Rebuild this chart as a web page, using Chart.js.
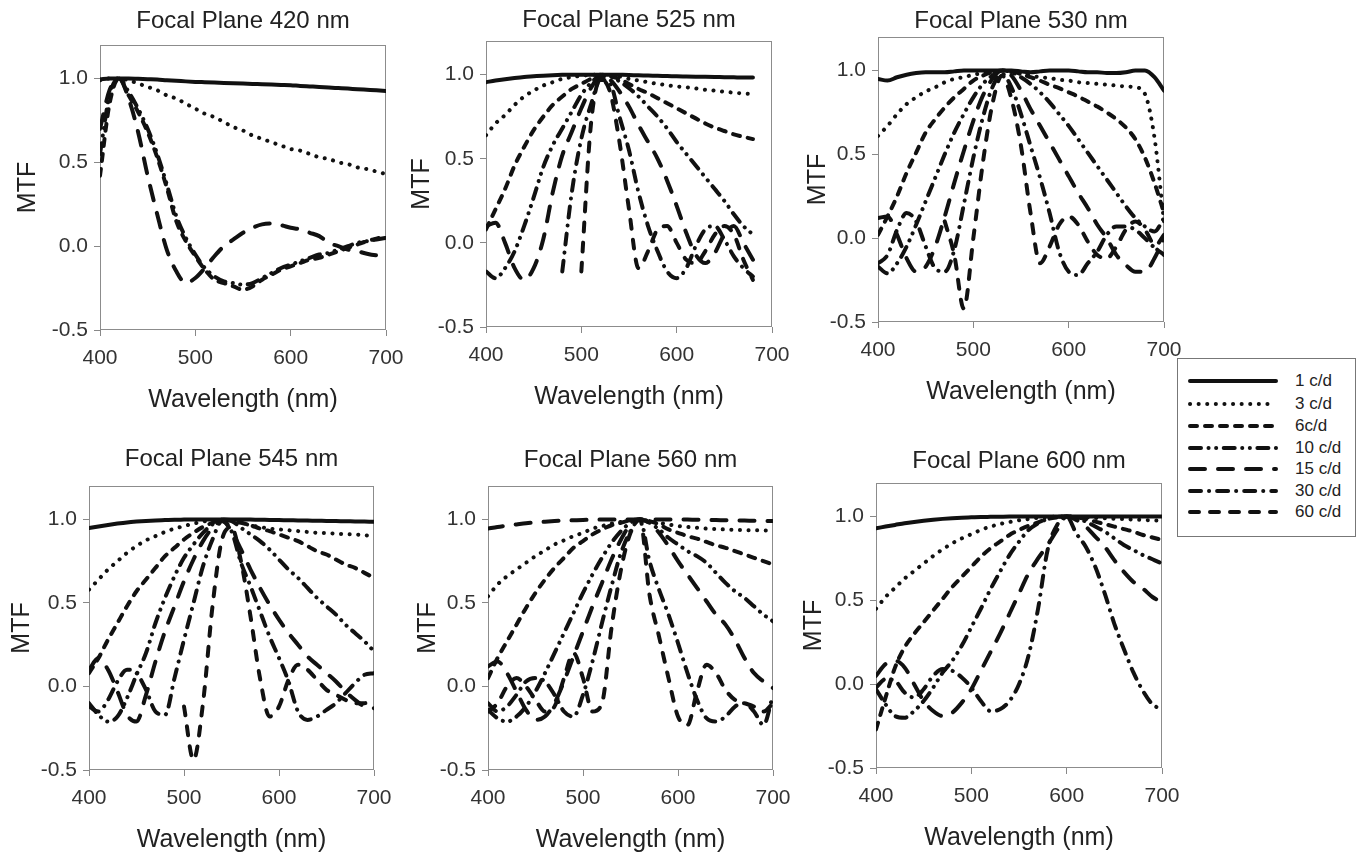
<!DOCTYPE html>
<html><head><meta charset="utf-8">
<script src="https://cdn.jsdelivr.net/npm/chart.js@4.4.1/dist/chart.umd.min.js"></script>
<style>
html,body{margin:0;padding:0;background:#fff;}
body{width:1361px;height:854px;position:relative;overflow:hidden;font-family:"Liberation Sans",Arial,sans-serif;}
canvas.panel{position:absolute;}
#legend{position:absolute;left:1177px;top:358px;width:179px;height:179px;border:1px solid #777;box-sizing:border-box;background:#fff;z-index:5;}
#legend .row{position:absolute;left:0;width:178px;height:20px;}
#legend svg{position:absolute;left:10px;top:0;}
#legend span{position:absolute;left:117px;top:0px;font-size:17px;line-height:19px;color:#222;}
</style></head>
<body>
<div id="legend"></div>
<script>
const N = null;
// wavelength grid (nm)
const WL = [400,410,420,430,440,450,460,470,480,490,500,510,520,530,540,550,560,570,580,590,600,610,620,630,640,650,660,670,680,690,700];
const SERIES_LABELS = ['1 c/d','3 c/d','6c/d','10 c/d','15 c/d','30 c/d','60 c/d'];

// Focal plane 420 nm
const fp420_c1  = [.995,1,1,1,.998,.996,.994,.99,.987,.983,.98,.978,.976,.974,.972,.97,.968,.966,.964,.962,.96,.956,.953,.95,.946,.943,.94,.936,.933,.93,.926];
const fp420_c3  = [.99,1,1,.99,.97,.95,.93,.9,.88,.85,.82,.79,.77,.74,.71,.69,.66,.64,.62,.6,.58,.57,.55,.53,.52,.5,.49,.47,.46,.445,.43];
const fp420_c6  = [.42,.85,1,.9,.8,.68,.53,.35,.15,.03,-.06,-.14,-.2,-.22,-.24,-.26,-.24,-.2,-.17,-.14,-.12,-.1,-.08,-.07,-.05,-.03,-.01,.01,.03,.045,.06];
const fp420_c10 = [.55,.9,1,.92,.82,.7,.55,.37,.18,.05,-.05,-.13,-.18,-.21,-.22,-.23,-.22,-.19,-.16,-.13,-.11,-.09,-.07,-.05,-.04,-.02,0,.02,.03,.04,.05];
const fp420_c15 = [.7,.93,1,.88,.68,.42,.19,-.02,-.15,-.22,-.19,-.13,-.06,0,.04,.08,.11,.13,.135,.125,.11,.1,.08,.06,.02,0,-.02,-.03,-.045,-.055,-.06];
const fp420_c30 = [];
const fp420_c60 = [];

// Focal plane 525 nm
const fp525_c1  = [.955,.965,.973,.98,.986,.99,.994,.997,.999,1,1,1,1,1,.999,.998,.996,.995,.993,.992,.99,.989,.988,.987,.986,.985,.984,.983,.983,N,N];
const fp525_c3  = [.64,.71,.76,.82,.87,.905,.935,.955,.975,.985,.993,.998,1,.998,.99,.975,.965,.955,.945,.937,.93,.925,.918,.91,.905,.898,.893,.888,.885,N,N];
const fp525_c6  = [.08,.2,.32,.46,.57,.67,.75,.82,.87,.915,.945,.975,1,.99,.975,.945,.915,.89,.86,.83,.8,.77,.74,.71,.685,.665,.645,.63,.617,N,N];
const fp525_c10 = [-.17,-.21,-.15,-.05,.1,.27,.45,.58,.68,.78,.88,.95,.99,.99,.96,.92,.87,.81,.75,.68,.6,.53,.46,.39,.32,.25,.17,.1,.05,N,N];
const fp525_c15 = [.1,.12,0,-.15,-.22,-.15,.02,.3,.52,.66,.8,.92,.99,.97,.9,.81,.7,.6,.5,.37,.22,.06,-.07,-.12,-.06,.05,.1,0,-.1,N,N];
const fp525_c30 = [N,N,N,N,N,N,N,N,-.17,.3,.62,.82,.97,.95,.75,.55,.3,.1,-.05,-.17,-.21,-.15,-.02,.08,.1,.02,-.08,-.15,-.2,N,N];
const fp525_c60 = [N,N,N,N,N,N,N,N,N,N,-.17,.7,.97,.9,.6,.2,-.15,-.05,.08,.1,0,-.1,-.12,-.05,.05,.1,.05,-.1,-.22,N,N];

// Focal plane 530 nm
const fp530_c1  = [.95,.94,.96,.975,.985,.99,.99,.99,.995,1,1,1,1,1,1,.995,.99,.995,1,1,1,.995,.99,.99,.985,.985,.99,1,1,.96,.88];
const fp530_c3  = [.61,.67,.74,.8,.84,.875,.9,.93,.95,.96,.975,.985,.995,1,.99,.98,.97,.96,.955,.945,.94,.93,.925,.92,.915,.91,.905,.9,.86,.6,.1];
const fp530_c6  = [.02,.13,.25,.39,.51,.63,.71,.78,.84,.89,.94,.97,.99,1,.995,.98,.96,.94,.915,.895,.87,.845,.815,.785,.75,.71,.66,.59,.48,.33,.15];
const fp530_c10 = [-.17,-.21,-.15,-.05,.08,.22,.36,.5,.63,.74,.84,.92,.97,1,.99,.96,.92,.87,.81,.74,.67,.59,.51,.43,.35,.27,.19,.12,.07,.04,.12];
const fp530_c15 = [.12,.13,.02,-.12,-.2,-.17,-.05,.13,.33,.52,.7,.85,.95,1,.97,.88,.77,.67,.57,.47,.37,.27,.18,.08,0,-.1,-.16,-.2,-.2,-.12,0];
const fp530_c30 = [-.15,-.1,.05,.15,.1,-.05,-.18,-.2,-.07,.2,.48,.72,.9,.98,.9,.74,.55,.36,.15,-.08,-.2,-.22,-.15,-.08,.02,.07,.07,.05,0,-.05,.02];
const fp530_c60 = [N,N,N,N,N,N,N,.1,-.1,-.42,0,.45,.8,.97,.83,.55,.15,-.15,-.05,.08,.13,.08,-.02,-.1,-.12,-.05,.05,.1,.05,-.05,-.1];

// Focal plane 545 nm
const fp545_c1  = [.948,.958,.967,.975,.982,.987,.991,.994,.996,.998,.999,1,1,1,1,1,1,.999,.998,.997,.996,.995,.994,.993,.992,.991,.99,.989,.988,.987,.986];
const fp545_c3  = [.58,.64,.7,.75,.8,.84,.875,.9,.925,.945,.96,.975,.987,.995,1,.995,.98,.965,.955,.945,.94,.935,.93,.925,.92,.918,.915,.912,.91,.905,.9];
const fp545_c6  = [.08,.17,.28,.38,.48,.57,.64,.71,.78,.83,.88,.92,.955,.98,1,.995,.98,.965,.945,.93,.91,.89,.87,.84,.81,.79,.76,.73,.71,.68,.65];
const fp545_c10 = [-.1,-.17,-.21,-.18,-.07,.07,.2,.38,.53,.66,.77,.85,.92,.97,.995,.99,.95,.91,.87,.82,.76,.7,.65,.59,.53,.48,.43,.37,.32,.27,.21];
const fp545_c15 = [.1,.17,.1,-.03,-.17,-.21,-.05,.15,.33,.48,.63,.76,.87,.95,.99,.93,.82,.7,.59,.49,.4,.32,.25,.18,.13,.08,.03,-.03,-.08,-.12,-.13];
const fp545_c30 = [-.12,-.15,-.08,.03,.1,.08,-.02,-.15,-.17,.05,.28,.5,.72,.88,.99,.93,.74,.6,.45,.3,.17,.03,-.15,-.2,-.18,-.14,-.1,-.04,.02,.07,.08];
const fp545_c60 = [N,N,N,N,N,N,N,N,N,N,-.12,-.44,-.1,.48,.88,.95,.75,.42,.05,-.18,-.12,.04,.13,.1,.04,-.02,-.05,-.08,-.1,-.1,-.08];

// Focal plane 560 nm
const fp560_c1  = [.945,.955,.963,.97,.977,.982,.986,.99,.993,.995,.997,.998,.999,1,1,1,1,1,1,1,1,.999,.998,.997,.996,.995,.994,.993,.992,.991,.99];
const fp560_c3  = [.54,.61,.66,.7,.74,.78,.815,.85,.875,.9,.92,.945,.96,.975,.985,.995,1,.99,.98,.97,.96,.955,.95,.945,.942,.94,.938,.936,.935,.934,.933];
const fp560_c6  = [.05,.17,.27,.37,.47,.56,.64,.71,.77,.83,.87,.91,.94,.965,.98,.995,1,.99,.97,.94,.92,.9,.885,.865,.845,.83,.81,.79,.77,.75,.73];
const fp560_c10 = [-.14,-.19,-.21,-.18,-.12,-.03,.08,.2,.32,.44,.56,.67,.77,.86,.93,.98,1,.98,.94,.89,.85,.81,.78,.74,.68,.62,.57,.53,.48,.43,.39];
const fp560_c15 = [.12,.15,.08,-.03,-.14,-.2,-.18,-.1,.03,.18,.33,.48,.62,.76,.88,.97,1,.98,.92,.84,.75,.67,.59,.51,.43,.37,.28,.17,.08,.03,-.01];
const fp560_c30 = [-.1,-.15,-.12,-.05,.03,.05,.03,-.05,-.15,-.18,-.05,.15,.38,.6,.8,.93,1,.75,.58,.43,.26,.08,-.08,-.19,-.21,-.18,-.12,-.1,-.15,-.23,-.05];
const fp560_c60 = [-.15,-.1,0,.05,0,-.08,-.15,-.12,.05,.2,.05,-.15,-.1,.35,.7,.92,1,.55,.3,.05,-.18,-.23,-.03,.13,.08,-.02,-.08,-.1,-.12,-.15,-.1];

// Focal plane 600 nm
const fp600_c1  = [.93,.94,.95,.96,.968,.975,.981,.986,.99,.993,.995,.997,.998,.999,1,1,1,1,1,1,1,1,1,1,1,1,1,1,1,1,1];
const fp600_c3  = [.45,.52,.575,.63,.675,.72,.765,.805,.84,.87,.895,.92,.94,.955,.967,.978,.985,.992,.997,1,1,.998,.995,.992,.99,.987,.985,.982,.98,.977,.975];
const fp600_c6  = [-.27,-.08,.1,.22,.3,.37,.44,.51,.58,.64,.7,.76,.81,.85,.89,.92,.945,.965,.985,.995,1,.995,.985,.97,.955,.94,.925,.91,.89,.875,.86];
const fp600_c10 = [-.03,-.12,-.19,-.2,-.16,-.1,-.02,.07,.14,.23,.34,.45,.565,.67,.77,.85,.92,.96,.985,.997,1,.99,.97,.94,.91,.87,.83,.8,.77,.745,.72];
const fp600_c15 = [.05,.12,.14,.1,0,-.1,-.16,-.19,-.17,-.11,-.03,.08,.19,.3,.42,.54,.66,.75,.83,.92,1,.98,.94,.88,.82,.74,.67,.61,.57,.52,.49];
const fp600_c30 = [-.02,.03,.02,-.05,-.08,-.03,.05,.09,.08,.04,-.02,-.1,-.16,-.15,-.1,0,.17,.45,.8,.95,1,.9,.82,.7,.54,.36,.21,.07,-.04,-.12,-.15];
const fp600_c60 = [];

const PANEL_DATA = {
  '420': [fp420_c1,fp420_c3,fp420_c6,fp420_c10,fp420_c15,fp420_c30,fp420_c60],
  '525': [fp525_c1,fp525_c3,fp525_c6,fp525_c10,fp525_c15,fp525_c30,fp525_c60],
  '530': [fp530_c1,fp530_c3,fp530_c6,fp530_c10,fp530_c15,fp530_c30,fp530_c60],
  '545': [fp545_c1,fp545_c3,fp545_c6,fp545_c10,fp545_c15,fp545_c30,fp545_c60],
  '560': [fp560_c1,fp560_c3,fp560_c6,fp560_c10,fp560_c15,fp560_c30,fp560_c60],
  '600': [fp600_c1,fp600_c3,fp600_c6,fp600_c10,fp600_c15,fp600_c30,fp600_c60]
};

// styling / placement (not data)
const FONT = '"Liberation Sans", Arial, Helvetica, sans-serif';
const DASH = [[],[0.1,8.5],[7,8],[11,7.5,0.1,7.5,0.1,7.5],[15,13],[11,8,0.1,8],[9,11]];
const LW = 4;
const ML = 110, MR = 110, MT = 50, MB = 95;
const LAYOUT = [
  {fp:'420', L:100, R:386, T:45,  B:330, titleOff:24, mtfOff:72},
  {fp:'525', L:486, R:772, T:41,  B:327, titleOff:21, mtfOff:64},
  {fp:'530', L:878, R:1164,T:37,  B:322, titleOff:16, mtfOff:60},
  {fp:'545', L:89,  R:374, T:486, B:770, titleOff:27, mtfOff:67},
  {fp:'560', L:488, R:773, T:486, B:770, titleOff:26, mtfOff:60, c1Dash:[15,13]},
  {fp:'600', L:876, R:1162,T:483, B:768, titleOff:22, mtfOff:62}
];

const framePlugin = {
  id:'frame',
  beforeDatasetsDraw(chart){
    const {ctx, chartArea:a} = chart;
    ctx.save();
    ctx.strokeStyle = '#8c8c8c'; ctx.lineWidth = 1;
    ctx.strokeRect(Math.round(a.left)+0.5, Math.round(a.top)+0.5, Math.round(a.right-a.left)-1, Math.round(a.bottom-a.top)-1);
    ctx.restore();
  }
};

LAYOUT.forEach(p => {
  const cv = document.createElement('canvas');
  cv.className = 'panel';
  const w = p.R - p.L + ML + MR, h = p.B - p.T + MT + MB;
  cv.width = w; cv.height = h;
  cv.style.left = (p.L - ML) + 'px'; cv.style.top = (p.T - MT) + 'px';
  cv.style.width = w + 'px'; cv.style.height = h + 'px';
  document.body.appendChild(cv);

  const titleLH = 24*1.2;
  const tPadTop = MT - p.titleOff - titleLH/2;
  const tPadBot = MT - titleLH - tPadTop;
  const axLH = 25*1.2;

  const datasets = PANEL_DATA[p.fp].map((arr, k) => ({
    label: SERIES_LABELS[k],
    data: arr.length ? WL.map((x,i) => ({x, y: arr[i]})) : [],
    borderColor: '#111',
    borderWidth: LW,
    borderDash: (k === 0 && p.c1Dash) ? p.c1Dash : DASH[k],
    borderCapStyle: 'round',
    borderJoinStyle: 'round',
    pointRadius: 0,
    fill: false,
    spanGaps: false,
    cubicInterpolationMode: 'monotone'
  }));

  new Chart(cv, {
    type: 'line',
    data: {datasets},
    options: {
      responsive: false, animation: false, devicePixelRatio: 1,
      layout: {padding: 0},
      plugins: {
        legend: {display: false},
        tooltip: {enabled: false},
        title: {display: true, text: 'Focal Plane ' + p.fp + ' nm', color: '#222',
          font: {family: FONT, size: 24, weight: 'normal', lineHeight: 1.2},
          padding: {top: tPadTop, bottom: tPadBot}}
      },
      scales: {
        x: {type: 'linear', position: 'bottom', min: 400, max: 700,
          ticks: {stepSize: 100, includeBounds: false, color: '#333', padding: 10, maxRotation: 0,
            font: {family: FONT, size: 21}, callback: v => String(v)},
          grid: {display: true, drawOnChartArea: false, drawTicks: true, tickLength: 6, color: '#888', lineWidth: 1},
          border: {display: false},
          title: {display: true, text: 'Wavelength (nm)', color: '#222',
            font: {family: FONT, size: 25, lineHeight: 1.2}, padding: {top: 0, bottom: MB - 70 - axLH/2}},
          afterFit(s){ s.height = MB; }
        },
        y: {type: 'linear', position: 'left', min: -0.5, max: 1.2,
          ticks: {stepSize: 0.5, includeBounds: false, color: '#333', padding: 6,
            font: {family: FONT, size: 21}, callback: v => Number(v).toFixed(1)},
          grid: {display: true, drawOnChartArea: false, drawTicks: true, tickLength: 6, color: '#888', lineWidth: 1},
          border: {display: false},
          title: {display: true, text: 'MTF', color: '#222',
            font: {family: FONT, size: 25, lineHeight: 1.2}, padding: {top: ML - p.mtfOff - axLH/2, bottom: 0}},
          afterFit(s){ s.width = ML; }
        },
        yR: {type: 'linear', position: 'right', display: true,
          ticks: {display: false}, grid: {display: false}, border: {display: false},
          afterFit(s){ s.width = MR; }
        }
      }
    },
    plugins: [framePlugin]
  });
});

// legend (HTML, swatches in SVG)
const lg = document.getElementById('legend');
const rowY = [22, 45, 67, 89, 110, 132, 153];
SERIES_LABELS.forEach((lab, k) => {
  const row = document.createElement('div');
  row.className = 'row';
  row.style.top = (rowY[k] - 10) + 'px';
  const dash = DASH[k].length ? DASH[k].join(' ') : 'none';
  row.innerHTML = '<svg width="92" height="20"><line x1="2" y1="10" x2="88" y2="10" stroke="#111" stroke-width="4" stroke-linecap="round" stroke-dasharray="' + dash + '"/></svg><span>' + lab + '</span>';
  lg.appendChild(row);
});
</script>
</body></html>
